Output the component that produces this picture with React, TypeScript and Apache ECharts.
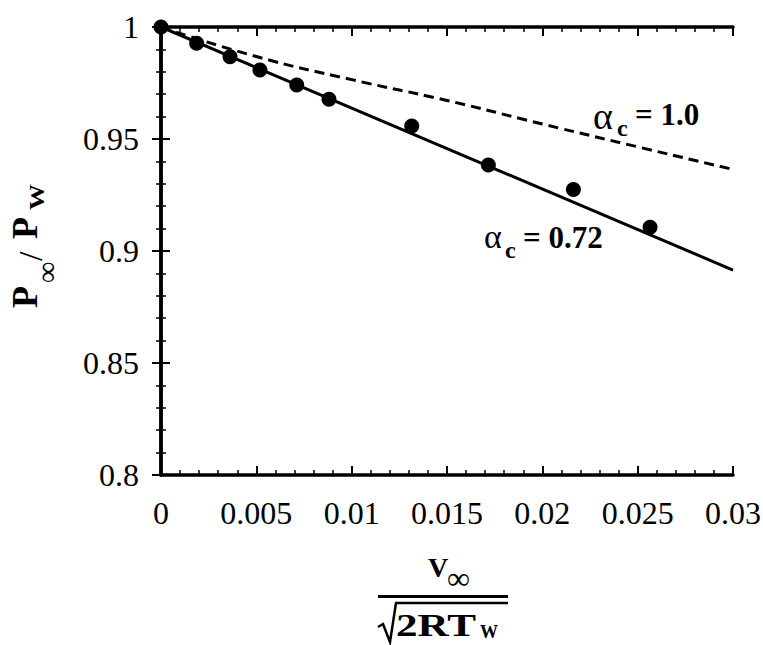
import React, { useEffect, useRef } from "react";
import * as echarts from "echarts";

// measured data points (V∞/sqrt(2RTw), P∞/Pw)
const measuredX = [0, 0.00187, 0.00362, 0.00519, 0.00712, 0.00881, 0.01315, 0.01717, 0.02163, 0.02565];
const measuredY = [1, 0.9927, 0.9867, 0.9808, 0.9741, 0.9677, 0.9558, 0.9384, 0.9275, 0.9106];

// theory, alpha_c = 0.72 (solid)
const fitX = [0, 0.03];
const fitY = [1, 0.8915];

// theory, alpha_c = 1.0 (dashed)
const unitX = [0, 0.005, 0.01, 0.015, 0.02, 0.025, 0.03];
const unitY = [1, 0.9868, 0.9765, 0.9672, 0.9567, 0.9465, 0.9364];

const xTickLabels = ["0", "0.005", "0.01", "0.015", "0.02", "0.025", "0.03"];
const yTickLabels = ["0.8", "0.85", "0.9", "0.95", "1"];

const SERIF = "Liberation Serif";

export default function App() {
  const ref = useRef<HTMLDivElement>(null);

  useEffect(() => {
    document.body.style.margin = "0";
    if (!ref.current) return;
    const chart = echarts.init(ref.current, null, { renderer: "svg" });

    const axisLine = { show: true, lineStyle: { color: "#000", width: 3.5 } };
    const tick = { show: true, inside: true, length: 9, lineStyle: { color: "#000", width: 2 } };
    const minor = { show: true, splitNumber: 5, length: 5, lineStyle: { color: "#000", width: 1.5 } };
    const lbl = { fontFamily: SERIF, fontSize: 32, color: "#000" };

    const xFmt = (v: number) => {
      const i = Math.round(v / 0.005);
      return xTickLabels[i] ?? String(v);
    };
    const yFmt = (v: number) => {
      const i = Math.round((v - 0.8) / 0.05);
      return yTickLabels[i] ?? String(v);
    };

    const txt = (x: number, y: number, text: string, size: number, bold: boolean, extra: any = {}) => ({
      type: "text",
      x,
      y,
      ...extra,
      style: {
        text,
        fontFamily: SERIF,
        fontSize: size,
        fontWeight: bold ? "bold" : "normal",
        fill: "#000",
        align: "left",
        verticalAlign: "middle",
      },
    });

    chart.setOption({
      animation: false,
      backgroundColor: "#fff",
      grid: { left: 161, right: 30, top: 27, bottom: 170, containLabel: false, outerBoundsMode: "none" },
      xAxis: [
        {
          type: "value",
          min: 0,
          max: 0.03,
          interval: 0.005,
          position: "bottom",
          axisLine,
          axisTick: tick,
          minorTick: minor,
          splitLine: { show: false },
          axisLabel: { ...lbl, margin: 22, formatter: xFmt, showMinLabel: true, showMaxLabel: true },
        },
        {
          type: "value",
          min: 0,
          max: 0.03,
          interval: 0.005,
          position: "top",
          axisLine,
          axisTick: tick,
          minorTick: minor,
          splitLine: { show: false },
          axisLabel: { show: false },
        },
      ],
      yAxis: [
        {
          type: "value",
          min: 0.8,
          max: 1,
          interval: 0.05,
          position: "left",
          axisLine,
          axisTick: tick,
          minorTick: minor,
          splitLine: { show: false },
          axisLabel: { ...lbl, margin: 22, formatter: yFmt, showMinLabel: true, showMaxLabel: true },
        },
        {
          type: "value",
          min: 0.8,
          max: 1,
          interval: 0.05,
          position: "right",
          axisLine,
          axisTick: tick,
          minorTick: minor,
          splitLine: { show: false },
          axisLabel: { show: false },
        },
      ],
      series: [
        {
          type: "line",
          data: unitX.map((x, i) => [x, unitY[i]]),
          symbol: "none",
          smooth: true,
          lineStyle: { color: "#000", width: 3, type: [10, 6] },
          z: 2,
        },
        {
          type: "line",
          data: fitX.map((x, i) => [x, fitY[i]]),
          symbol: "none",
          lineStyle: { color: "#000", width: 3 },
          z: 3,
        },
        {
          type: "scatter",
          data: measuredX.map((x, i) => [x, measuredY[i]]),
          symbol: "circle",
          symbolSize: 15,
          itemStyle: { color: "#000", opacity: 1 },
          clip: false,
          z: 4,
        },
      ],
      graphic: [
        // y axis title, rotated
        {
          type: "group",
          x: 25,
          y: 245,
          rotation: Math.PI / 2,
          children: [
            txt(-63, 0, "P", 36, true),
            txt(-38, 21, "∞", 30, false),
            txt(-16, 5, "/", 34, false),
            txt(6, 0, "P", 36, true),
            txt(35, 12, "W", 20, true, { scaleX: 1.3 }),
          ],
        },
        // x axis title: fraction
        txt(428, 567, "V", 28, true),
        txt(447, 578, "∞", 32, false),
        {
          type: "line",
          shape: { x1: 378, y1: 596.5, x2: 508, y2: 596.5 },
          style: { stroke: "#000", lineWidth: 3 },
        },
        {
          type: "polyline",
          shape: { points: [[378, 627], [383, 624], [390, 642], [396, 603], [508, 603]] },
          style: { stroke: "#000", lineWidth: 2.5, fill: null },
        },
        txt(396, 625, "2RT", 32, true, { scaleX: 1.35 }),
        txt(480, 632, "W", 18, true),
        // curve annotations
        txt(593, 116, "α", 38, false),
        txt(617, 128, "c", 24, true),
        txt(635, 114, "= 1.0", 31, true),
        txt(484, 236, "α", 34, false),
        txt(505, 250, "c", 24, true),
        txt(523, 237, "= 0.72", 31, true),
      ],
    });

    return () => chart.dispose();
  }, []);

  return <div ref={ref} style={{ width: 763, height: 645 }} />;
}
